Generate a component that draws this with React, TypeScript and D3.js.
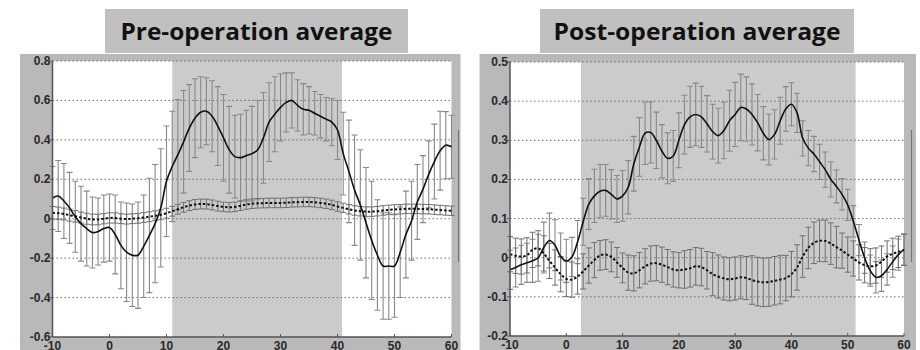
import React from "react";
import * as d3 from "d3";

// x sampling grid (time index)
const xs: number[] = d3.range(-10, 61);
const xTicks = [-10, 0, 10, 20, 30, 40, 50, 60];
const preTicks = [-0.6, -0.4, -0.2, 0, 0.2, 0.4, 0.6, 0.8];
const postTicks = [-0.2, -0.1, 0, 0.1, 0.2, 0.3, 0.4, 0.5];
const titles = ["Pre-operation average", "Post-operation average"];
const preShade = [11, 40.8];
const postShade = [2.6, 51.4];

// Pre-operation: solid mean + error
const preMain = [
  0.105, 0.115, 0.09, 0.055, 0.01, -0.025, -0.05, -0.07, -0.065, -0.05,
  -0.045, -0.08, -0.135, -0.17, -0.185, -0.185, -0.14, -0.085, -0.025, 0.055,
  0.19, 0.265, 0.325, 0.39, 0.46, 0.51, 0.54, 0.545, 0.52, 0.47,
  0.41, 0.35, 0.315, 0.31, 0.32, 0.33, 0.35, 0.41, 0.49, 0.53,
  0.565, 0.59, 0.6, 0.575, 0.555, 0.55, 0.535, 0.52, 0.505, 0.49,
  0.45, 0.33, 0.24, 0.145, 0.07, -0.02, -0.11, -0.184, -0.24, -0.24,
  -0.24, -0.17, -0.08, -0.01, 0.085, 0.15, 0.225, 0.29, 0.345, 0.373,
  0.365,
];
const preMainErr = [
  0.16, 0.18, 0.19, 0.18, 0.18, 0.19, 0.19, 0.18, 0.17, 0.17,
  0.17, 0.2, 0.22, 0.25, 0.26, 0.27, 0.26, 0.29, 0.3, 0.3,
  0.28, 0.28, 0.28, 0.26, 0.22, 0.2, 0.18, 0.17, 0.18, 0.2,
  0.22, 0.22, 0.21, 0.22, 0.23, 0.24, 0.25, 0.23, 0.2, 0.19,
  0.17, 0.15, 0.14, 0.13, 0.13, 0.12, 0.11, 0.11, 0.11, 0.12,
  0.15, 0.21, 0.26, 0.28, 0.28, 0.28, 0.3, 0.28, 0.27, 0.27,
  0.26, 0.23, 0.22, 0.2, 0.19, 0.17, 0.17, 0.19, 0.2, 0.17,
  0.16,
];
// Pre-operation: dashed control + error
const preDash = [
  0.03, 0.028, 0.024, 0.018, 0.012, 0.006, 0.0, -0.004, -0.004, 0.0,
  0.004, 0.004, 0.0, -0.002, 0.0, 0.002, 0.006, 0.01, 0.015, 0.02,
  0.028, 0.038, 0.048, 0.058, 0.066, 0.072, 0.075, 0.074, 0.07, 0.064,
  0.06, 0.058, 0.06, 0.066, 0.072, 0.076, 0.078, 0.079, 0.08, 0.08,
  0.08, 0.081, 0.083, 0.084, 0.085, 0.085, 0.083, 0.08, 0.076, 0.07,
  0.062, 0.055, 0.048, 0.042, 0.038, 0.036, 0.036, 0.038, 0.042, 0.045,
  0.047, 0.048, 0.05, 0.05, 0.05, 0.049, 0.048, 0.046, 0.044, 0.042,
  0.04,
];
const preDashErr = [
  0.032, 0.031, 0.03, 0.03, 0.029, 0.028, 0.028, 0.027, 0.027, 0.026,
  0.026, 0.026, 0.025, 0.025, 0.025, 0.025, 0.025, 0.025, 0.025, 0.025,
  0.025, 0.025, 0.025, 0.025, 0.025, 0.025, 0.025, 0.025, 0.025, 0.025,
  0.024, 0.024, 0.024, 0.024, 0.024, 0.024, 0.024, 0.024, 0.024, 0.024,
  0.024, 0.024, 0.024, 0.024, 0.024, 0.024, 0.024, 0.024, 0.024, 0.024,
  0.024, 0.024, 0.024, 0.024, 0.024, 0.024, 0.024, 0.024, 0.024, 0.024,
  0.024, 0.024, 0.024, 0.024, 0.024, 0.024, 0.024, 0.024, 0.024, 0.024,
  0.024,
];

// Post-operation: solid mean + error
const postMain = [
  -0.031, -0.025, -0.018, -0.013, -0.008, 0.0, 0.026, 0.044, 0.032, 0.003,
  -0.008, 0.002, 0.04, 0.092, 0.137, 0.158, 0.17, 0.172, 0.162, 0.15,
  0.158, 0.18, 0.24, 0.283, 0.318, 0.32, 0.3, 0.272, 0.254, 0.26,
  0.3, 0.34, 0.36, 0.366, 0.36, 0.342, 0.322, 0.312, 0.325, 0.35,
  0.366, 0.384, 0.38, 0.366, 0.345, 0.318, 0.302, 0.315, 0.35, 0.38,
  0.392, 0.37, 0.305, 0.28, 0.265, 0.245, 0.225, 0.2, 0.182, 0.162,
  0.135, 0.093, 0.045, 0.0, -0.033, -0.05, -0.046, -0.03, -0.01, 0.008,
  0.021,
];
const postMainErr = [
  0.05, 0.05, 0.05, 0.05, 0.055, 0.06, 0.065, 0.07, 0.065, 0.06,
  0.055, 0.05, 0.055, 0.06, 0.065, 0.068, 0.068, 0.066, 0.063, 0.06,
  0.065, 0.068, 0.07, 0.075, 0.08, 0.078, 0.072, 0.068, 0.065, 0.065,
  0.07, 0.075, 0.078, 0.08, 0.078, 0.072, 0.07, 0.07, 0.072, 0.078,
  0.082, 0.085, 0.082, 0.078, 0.072, 0.068, 0.065, 0.063, 0.06, 0.057,
  0.055, 0.05, 0.045, 0.045, 0.045, 0.045, 0.045, 0.045, 0.042, 0.04,
  0.04, 0.04, 0.04, 0.04, 0.04, 0.04, 0.04, 0.04, 0.04, 0.04,
  0.04,
];
// Post-operation: dashed control + error
const postDash = [
  0.009, 0.005, 0.003, 0.006, 0.02, 0.024, 0.011, -0.008, -0.025, -0.042,
  -0.054, -0.056, -0.048, -0.035, -0.02, -0.006, 0.006, 0.008, 0.002, -0.012,
  -0.026, -0.038, -0.04, -0.032, -0.022, -0.015, -0.014, -0.018, -0.024, -0.03,
  -0.032, -0.03, -0.027, -0.022, -0.024, -0.032, -0.042, -0.048, -0.053, -0.055,
  -0.053, -0.05, -0.052, -0.057, -0.061, -0.063, -0.062, -0.059, -0.056, -0.052,
  -0.042, -0.025, 0.003, 0.025, 0.038, 0.043, 0.043, 0.036, 0.027, 0.018,
  0.008, -0.002, -0.012, -0.019, -0.022, -0.02, -0.01, 0.003, 0.01, 0.015,
  0.02,
];
const postDashErr = [
  0.045, 0.045, 0.045, 0.045, 0.045, 0.045, 0.045, 0.045, 0.045, 0.045,
  0.045, 0.045, 0.045, 0.045, 0.045, 0.045, 0.038, 0.038, 0.038, 0.038,
  0.038, 0.045, 0.045, 0.045, 0.045, 0.045, 0.045, 0.045, 0.045, 0.045,
  0.045, 0.048, 0.048, 0.048, 0.048, 0.048, 0.055, 0.055, 0.055, 0.055,
  0.055, 0.055, 0.055, 0.062, 0.062, 0.062, 0.062, 0.062, 0.062, 0.058,
  0.058, 0.058, 0.053, 0.053, 0.053, 0.053, 0.053, 0.053, 0.053, 0.045,
  0.045, 0.045, 0.045, 0.045, 0.045, 0.045, 0.04, 0.04, 0.04, 0.04,
  0.04,
];

type Box = { l: number; t: number; r: number; b: number };

function errPath(
  vals: number[],
  errs: number[],
  x: d3.ScaleLinear<number, number>,
  y: d3.ScaleLinear<number, number>,
  cap: number
) {
  return vals
    .map((v, i) => {
      const px = x(xs[i]);
      const y1 = y(v + errs[i]);
      const y2 = y(v - errs[i]);
      return `M${px},${y1}V${y2}M${px - cap},${y1}H${px + cap}M${px - cap},${y2}H${px + cap}`;
    })
    .join("");
}

function Panel(props: {
  frame: Box;
  plot: Box;
  yDomain: [number, number];
  yTicks: number[];
  shade: number[];
  main: number[];
  mainErr: number[];
  dash: number[];
  dashErr: number[];
  title: string;
  titleBox: Box;
  titleLen: number;
  sideLine: number;
}) {
  const { frame, plot, yDomain, yTicks, shade, main, mainErr, dash, dashErr, title, titleBox } = props;
  const x = d3.scaleLinear().domain([-10, 60]).range([plot.l, plot.r]);
  const y = d3.scaleLinear().domain(yDomain).range([plot.b, plot.t]);
  const line = d3
    .line<number>()
    .x((_, i) => x(xs[i]))
    .y((d) => y(d))
    .curve(d3.curveCatmullRom);
  const tickFont = "'Liberation Sans', Arial, sans-serif";
  return (
    <g>
      {/* title box */}
      <rect x={titleBox.l} y={titleBox.t} width={titleBox.r - titleBox.l} height={titleBox.b - titleBox.t} fill="#c0c0c0" />
      <text
        x={(titleBox.l + titleBox.r) / 2}
        y={titleBox.t + 31}
        textAnchor="middle"
        fontFamily="'Open Sans', sans-serif"
        fontWeight={700}
        fontSize={23}
        fill="#111"
        textLength={props.titleLen}
        lengthAdjust="spacingAndGlyphs"
      >
        {title}
      </text>
      {/* frame */}
      <rect x={frame.l} y={frame.t} width={frame.r - frame.l} height={frame.b - frame.t} fill="#b9b9b9" />
      <rect x={plot.l} y={plot.t} width={plot.r - plot.l} height={plot.b - plot.t} fill="#ffffff" />
      <rect x={x(shade[0])} y={plot.t} width={x(shade[1]) - x(shade[0])} height={plot.b - plot.t} fill="#cbcbcb" />
      <line x1={props.sideLine} x2={props.sideLine} y1={130} y2={262} stroke="#777" strokeWidth={1.2} />
      {/* grid */}
      {yTicks.filter((t) => t !== yDomain[0]).map((t) => (
        <line key={t} x1={plot.l} x2={plot.r} y1={y(t)} y2={y(t)} stroke="#6a6a6a" strokeWidth={1} strokeDasharray="1.5,2.5" />
      ))}
      {/* error bars */}
      <path d={errPath(main, mainErr, x, y, 3)} stroke="#888" strokeWidth={1.1} fill="none" />
      <path d={errPath(dash, dashErr, x, y, 3)} stroke="#707070" strokeWidth={1} fill="none" />
      {/* lines */}
      <path d={line(dash) || ""} stroke="#111" strokeWidth={2} strokeDasharray="2.5,2" fill="none" />
      <path d={line(main) || ""} stroke="#111" strokeWidth={1.6} fill="none" />
      {/* axes */}
      <line x1={plot.l} x2={plot.l} y1={plot.t} y2={plot.b} stroke="#555" strokeWidth={1.5} />
      <line x1={plot.l} x2={plot.r} y1={plot.b} y2={plot.b} stroke="#555" strokeWidth={1.5} />
      {yTicks.map((t) => (
        <g key={"y" + t}>
          <line x1={plot.l - 3} x2={plot.l} y1={y(t)} y2={y(t)} stroke="#555" />
          <text
            x={plot.l - 2}
            y={y(t) + 4}
            textAnchor="end"
            fontFamily={tickFont}
            fontWeight={700}
            fontSize={12}
            fill="#2a2a2a"
          >
            {String(t)}
          </text>
        </g>
      ))}
      {xTicks.map((t) => (
        <g key={"x" + t}>
          <line x1={x(t)} x2={x(t)} y1={plot.b} y2={plot.b - 3} stroke="#555" />
          <text
            x={x(t)}
            y={plot.b + 13}
            textAnchor="middle"
            fontFamily={tickFont}
            fontWeight={700}
            fontSize={12}
            fill="#2a2a2a"
          >
            {String(t)}
          </text>
        </g>
      ))}
    </g>
  );
}

export default function App() {
  return (
    <svg
      width={920}
      height={350}
      style={{ position: "absolute", left: 0, top: 0, background: "#fff" }}
    >
      <Panel
        frame={{ l: 20, t: 54, r: 460.5, b: 350 }}
        plot={{ l: 52.5, t: 61, r: 451.5, b: 337 }}
        yDomain={[-0.6, 0.8]}
        yTicks={preTicks}
        shade={preShade}
        main={preMain}
        mainErr={preMainErr}
        dash={preDash}
        dashErr={preDashErr}
        title={titles[0]}
        titleBox={{ l: 105, t: 9, r: 408, b: 53 }}
        titleLen={272}
        sideLine={458.5}
      />
      <Panel
        frame={{ l: 479.5, t: 54, r: 916, b: 350 }}
        plot={{ l: 510, t: 62, r: 904, b: 336 }}
        yDomain={[-0.2, 0.5]}
        yTicks={postTicks}
        shade={postShade}
        main={postMain}
        mainErr={postMainErr}
        dash={postDash}
        dashErr={postDashErr}
        title={titles[1]}
        titleBox={{ l: 540, t: 9, r: 854, b: 53 }}
        titleLen={287}
        sideLine={911.5}
      />
    </svg>
  );
}
